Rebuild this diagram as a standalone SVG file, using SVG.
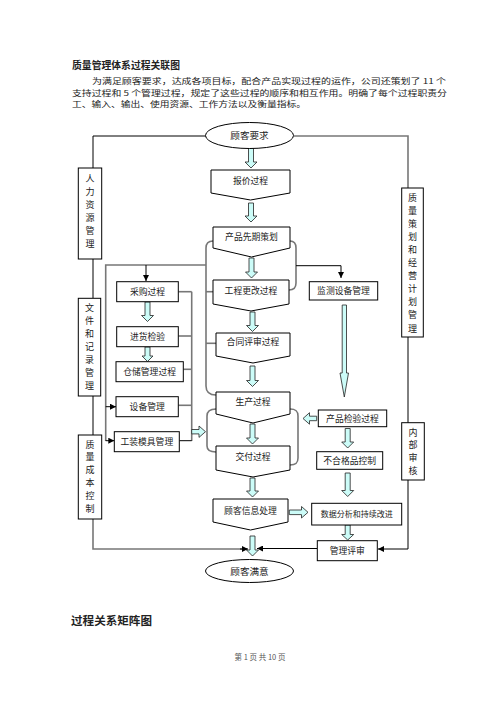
<svg xmlns="http://www.w3.org/2000/svg" width="496" height="702" viewBox="0 0 496 702">
<style>
text{font-family:"Noto Sans CJK SC","Noto Sans",sans-serif;fill:#222}
.t{font-size:8.8px;text-anchor:middle}
.v{font-size:9px;text-anchor:middle}
.p{font-size:7.8px}
.box{fill:#fff;stroke:#000;stroke-width:1}
.ln{fill:none;stroke:#000;stroke-width:1}
.gl{fill:none;stroke:#777;stroke-width:1.6}
.ha{fill:#ccfcf8;stroke:#222;stroke-width:0.8}
</style>
<defs>
<marker id="ah" viewBox="0 0 10 10" refX="10" refY="5" markerWidth="6" markerHeight="6" orient="auto" markerUnits="userSpaceOnUse"><path d="M0,0 L10,5 L0,10 Z" fill="#000"/></marker>
</defs>
<rect width="496" height="702" fill="#fff"/>

<g id="header">
<text x="72" y="69" style="font-size:10px;font-weight:bold" textLength="108" lengthAdjust="spacingAndGlyphs">质量管理体系过程关联图</text>
<text class="p" x="92" y="84" textLength="354" lengthAdjust="spacingAndGlyphs">为满足顾客要求，达成各项目标，配合产品实现过程的运作，公司还策划了 11 个</text>
<text class="p" x="72" y="95.5" textLength="375" lengthAdjust="spacingAndGlyphs">支持过程和 5 个管理过程，规定了这些过程的顺序和相互作用。明确了每个过程职责分</text>
<text class="p" x="72" y="107" textLength="234" lengthAdjust="spacingAndGlyphs">工、输入、输出、使用资源、工作方法以及衡量指标。</text>
</g>

<g id="connectors">
<polyline class="ln" points="206,136 93,136 93,168"/>
<polyline class="gl" points="294,136 408,136 408,188"/>
<line class="ln" x1="93" y1="259" x2="93" y2="298"/>
<line class="ln" x1="93" y1="396" x2="93" y2="435"/>
<polyline class="gl" points="93,519 93,549 247,549" />
<line class="ln" x1="240" y1="549" x2="248" y2="549" marker-end="url(#ah)"/>
<line class="ln" x1="408" y1="337" x2="408" y2="423"/>
<polyline class="ln" points="408,480 408,549 378,549" marker-end="url(#ah)"/>
<line class="ln" x1="317" y1="548.5" x2="257" y2="548.5" marker-end="url(#ah)"/>
<path class="gl" d="M213,241 C208,241 206,243 206,248 V386 C206,392 209,395 216,395" stroke-width="1.2"/>
<path class="gl" d="M290,241 C294,241 296,243 296,248 V283 C296,288 294,290 289,290" stroke-width="1.2"/>
<path class="gl" d="M216,409 C210,409 207,411 207,416 V446 C207,450 210,452 216,452" stroke-width="1.2"/>
<path class="gl" d="M290,409 C296,409 298,411 298,416 V458 C298,463 296,465 290,465" stroke-width="1.2"/>
<line class="gl" x1="206" y1="291.7" x2="213" y2="291.7" stroke-width="1.2"/>
<line class="gl" x1="206" y1="343.3" x2="216" y2="343.3" stroke-width="1.2"/>
<polyline class="ln" points="296,265.7 341,265.7 341,278" marker-end="url(#ah)"/>
<polyline class="gl" points="206,265 105.7,265 105.7,441" stroke-width="1.2"/>
<line class="ln" x1="146" y1="265" x2="146" y2="281" marker-end="url(#ah)"/>
<line class="ln" x1="105.7" y1="406.7" x2="116" y2="406.7" marker-end="url(#ah)"/>
<line class="ln" x1="105.7" y1="440.7" x2="114.3" y2="440.7" marker-end="url(#ah)"/>
<line class="gl" x1="191.7" y1="291.7" x2="191.7" y2="441" stroke-width="1.2"/>
<line class="gl" x1="178.3" y1="291.7" x2="191.7" y2="291.7" stroke-width="1.2"/>
<line class="gl" x1="178.3" y1="336" x2="191.7" y2="336" stroke-width="1.2"/>
<line class="gl" x1="183.3" y1="369.3" x2="191.7" y2="369.3" stroke-width="1.2"/>
<line class="gl" x1="178.3" y1="405.3" x2="191.7" y2="405.3" stroke-width="1.2"/>
<line class="ln" x1="179.3" y1="440.7" x2="191.7" y2="440.7"/>
<path class="ha" d="M248.5,148 H253.5 V162 H257 L251,168 L245,162 H248.5 Z"/>
<path class="ha" d="M248.5,203 H253.5 V216 H257 L251,222 L245,216 H248.5 Z"/>
<path class="ha" d="M249,258 H254 V272 H257.5 L251.5,278 L245.5,272 H249 Z"/>
<path class="ha" d="M250,312 H255 V325.5 H258.5 L252.5,331.5 L246.5,325.5 H250 Z"/>
<path class="ha" d="M250,366 H255 V380.5 H258.5 L252.5,386.5 L246.5,380.5 H250 Z"/>
<path class="ha" d="M250,424 H255 V438 H258.5 L252.5,444 L246.5,438 H250 Z"/>
<path class="ha" d="M250,478 H255 V491 H258.5 L252.5,497 L246.5,491 H250 Z"/>
<path class="ha" d="M250,536 H255 V550 H258.5 L252.5,556 L246.5,550 H250 Z"/>
<path class="ha" d="M145,302 H150 V315.5 H153.5 L147.5,321.5 L141.5,315.5 H145 Z"/>
<path class="ha" d="M145,347 H150 V356 H153 L147.5,361.5 L142,356 H145 Z"/>
<path class="ha" d="M342.2,305 H346.5 V373 H348.5 L344.3,397 L340,373 H342.2 Z"/>
<path class="ha" d="M345.2,428.5 H350.2 V442 H353.7 L347.7,448 L341.7,442 H345.2 Z"/>
<path class="ha" d="M345.2,473 H350.2 V490.5 H353.7 L347.7,496.5 L341.7,490.5 H345.2 Z"/>
<path class="ha" d="M345.2,525 H350.2 V534.5 H353.7 L347.7,540 L341.7,534.5 H345.2 Z"/>
<path class="ha" d="M191.7,429.5 H199 V426 L205.5,431.7 L199,437.4 V433.9 H191.7 Z"/>
<path class="ha" d="M289.3,510 H301.5 V506.5 L308,512.3 L301.5,518 V514.6 H289.3 Z"/>
<path class="ha" d="M316.7,416.2 H309.5 V412.7 L303,418.5 L309.5,424.2 V420.7 H316.7 Z"/>
</g>

<g id="n-req"><ellipse class="box" cx="249.5" cy="135.5" rx="44" ry="13"/><text class="t" x="249.5" y="139" style="font-size:9.6px">顾客要求</text></g>
<g id="n-sat"><ellipse class="box" cx="249.5" cy="571" rx="44" ry="11.5"/><text class="t" x="249.5" y="574.5" style="font-size:9.6px">顾客满意</text></g>

<g id="n-quote"><path class="box" d="M211,170 H290 V193 L250.5,200 L211,193 Z"/><text class="t" x="250.5" y="184">报价过程</text></g>
<g id="n-apqp"><path class="box" d="M213,227 H290 V248 L251.5,257 L213,248 Z"/><text class="t" x="251.5" y="240">产品先期策划</text></g>
<g id="n-eng"><path class="box" d="M213,280 H289 V304 L251,311 L213,304 Z"/><text class="t" x="251" y="293.5">工程更改过程</text></g>
<g id="n-contract"><path class="box" d="M216,333 H290 V356 L253,363 L216,356 Z"/><text class="t" x="253" y="345">合同评审过程</text></g>
<g id="n-prod"><path class="box" d="M216,392 H290 V414 L253,423 L216,414 Z"/><text class="t" x="253" y="404.5">生产过程</text></g>
<g id="n-deliv"><path class="box" d="M216,446 H290 V470 L253,477 L216,470 Z"/><text class="t" x="253" y="459.5">交付过程</text></g>
<g id="n-custinfo"><path class="box" d="M213,499 H288 V522 L250.5,530 L213,522 Z"/><text class="t" x="250.5" y="513.5">顾客信息处理</text></g>

<g id="n-purch"><rect class="box" x="116.7" y="281.7" width="61.6" height="20"/><text class="t" x="147.5" y="294.8">采购过程</text></g>
<g id="n-incoming"><rect class="box" x="116.7" y="326.7" width="61.6" height="20"/><text class="t" x="147.5" y="339.8">进货检验</text></g>
<g id="n-store"><rect class="box" x="116" y="361.7" width="67.3" height="20"/><text class="t" x="149.6" y="374.8">仓储管理过程</text></g>
<g id="n-equip"><rect class="box" x="116" y="396.7" width="62.3" height="20"/><text class="t" x="147.2" y="409.8">设备管理</text></g>
<g id="n-tool"><rect class="box" x="114.3" y="431.7" width="65" height="20"/><text class="t" x="146.8" y="444.8">工装模具管理</text></g>

<g id="n-monitor"><rect class="box" x="309.3" y="281.7" width="68.4" height="18.3"/><text class="t" x="343.5" y="294">监测设备管理</text></g>
<g id="n-inspect"><rect class="box" x="318.3" y="410" width="68.4" height="16.7"/><text class="t" x="352.5" y="421.5">产品检验过程</text></g>
<g id="n-nc"><rect class="box" x="316.7" y="451.7" width="66" height="17.6"/><text class="t" x="349.7" y="463.6">不合格品控制</text></g>
<g id="n-data"><rect class="box" x="311.7" y="503.3" width="90" height="21.7"/><text class="t" x="356.7" y="517.3" style="font-size:8px">数据分析和持续改进</text></g>
<g id="n-review"><rect class="box" x="317.3" y="540.7" width="60" height="20"/><text class="t" x="347.3" y="553.8">管理评审</text></g>

<g id="n-hr"><rect class="box" x="78.3" y="168" width="23.4" height="91"/>
<text class="v"><tspan x="90" y="181.5">人</tspan><tspan x="90" y="194.5">力</tspan><tspan x="90" y="207.5">资</tspan><tspan x="90" y="220.5">源</tspan><tspan x="90" y="233.5">管</tspan><tspan x="90" y="246.5">理</tspan></text></g>
<g id="n-doc"><rect class="box" x="78.3" y="298.3" width="22.4" height="97.7"/>
<text class="v"><tspan x="89.5" y="310.5">文</tspan><tspan x="89.5" y="323.5">件</tspan><tspan x="89.5" y="336.5">和</tspan><tspan x="89.5" y="349.5">记</tspan><tspan x="89.5" y="362.5">录</tspan><tspan x="89.5" y="375.5">管</tspan><tspan x="89.5" y="388.5">理</tspan></text></g>
<g id="n-cost"><rect class="box" x="78.3" y="435" width="23.4" height="84"/>
<text class="v"><tspan x="90" y="447.5">质</tspan><tspan x="90" y="460.3">量</tspan><tspan x="90" y="473.1">成</tspan><tspan x="90" y="485.9">本</tspan><tspan x="90" y="498.7">控</tspan><tspan x="90" y="511.5">制</tspan></text></g>
<g id="n-plan"><rect class="box" x="401.7" y="188" width="21.6" height="149"/>
<text class="v"><tspan x="412.5" y="200.5">质</tspan><tspan x="412.5" y="213.6">量</tspan><tspan x="412.5" y="226.7">策</tspan><tspan x="412.5" y="239.8">划</tspan><tspan x="412.5" y="252.9">和</tspan><tspan x="412.5" y="266">经</tspan><tspan x="412.5" y="279.1">营</tspan><tspan x="412.5" y="292.2">计</tspan><tspan x="412.5" y="305.3">划</tspan><tspan x="412.5" y="318.4">管</tspan><tspan x="412.5" y="331.5">理</tspan></text></g>
<g id="n-audit"><rect class="box" x="401.7" y="422.7" width="22.6" height="57.3"/>
<text class="v"><tspan x="413" y="435.5">内</tspan><tspan x="413" y="448.2">部</tspan><tspan x="413" y="460.9">审</tspan><tspan x="413" y="473.6">核</tspan></text></g>

<g id="footer">
<text x="71" y="625" style="font-size:11.5px;font-weight:bold" textLength="81" lengthAdjust="spacingAndGlyphs">过程关系矩阵图</text>
<text x="260" y="659.5" style="font-size:7.5px;text-anchor:middle;fill:#555">第 1 页 共 10 页</text>
</g>
</svg>
